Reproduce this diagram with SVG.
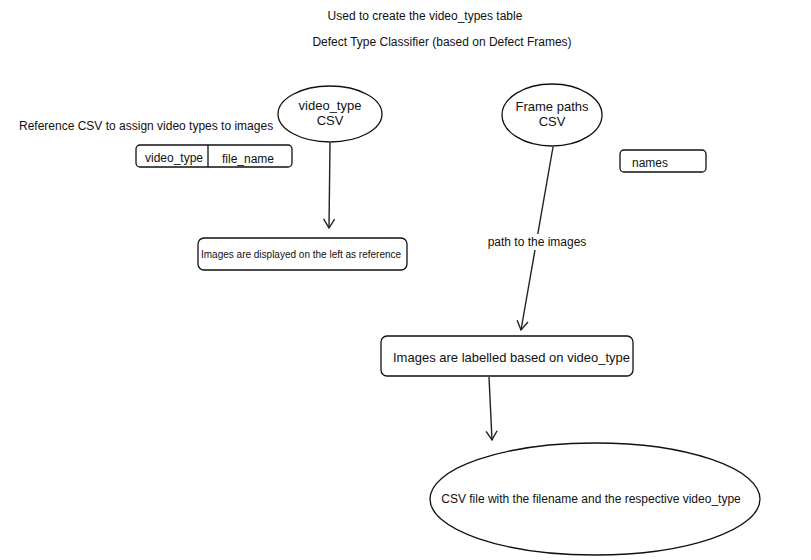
<svg xmlns="http://www.w3.org/2000/svg" width="811" height="560" viewBox="0 0 811 560">
  <style>
    text { font-family: "Liberation Sans", Arial, sans-serif; fill: #111; }
    .t13 { font-size: 13px; }
    .t12 { font-size: 12px; }
    .t10 { font-size: 10px; }
    .shape { fill: #fff; stroke: #111; stroke-width: 1.3; }
    .edge { fill: none; stroke: #222; stroke-width: 1.4; }
  </style>
  <defs>
    <marker id="arrowV" markerWidth="14" markerHeight="14" refX="10" refY="7" orient="auto" markerUnits="userSpaceOnUse">
      <path d="M1,1.5 L10,7 L1,12.5" fill="none" stroke="#222" stroke-width="1.4"/>
    </marker>
  </defs>
  <rect width="811" height="560" fill="#fff"/>

  <!-- headings -->
  <text class="t12" x="425" y="20" text-anchor="middle">Used to create the video_types table</text>
  <text class="t12" x="442" y="46" text-anchor="middle">Defect Type Classifier (based on Defect Frames)</text>
  <text class="t12" x="19" y="130">Reference CSV to assign video types to images</text>

  <!-- connectors -->
  <g id="connectors">
    <line class="edge" x1="330" y1="143" x2="329" y2="228" marker-end="url(#arrowV)"/>
    <line class="edge" x1="553" y1="147" x2="521" y2="330" marker-end="url(#arrowV)"/>
    <rect x="482" y="234" width="110" height="16" fill="#fff"/>
    <text class="t12" x="537" y="246" text-anchor="middle">path to the images</text>
    <line class="edge" x1="489" y1="377" x2="492" y2="440" marker-end="url(#arrowV)"/>
  </g>

  <g id="video-type-csv">
    <ellipse class="shape" cx="330" cy="114" rx="52" ry="28"/>
    <text class="t13" x="330" y="110" text-anchor="middle">video_type</text>
    <text class="t13" x="330" y="125" text-anchor="middle">CSV</text>
  </g>

  <g id="frame-paths-csv">
    <ellipse class="shape" cx="552" cy="115" rx="50" ry="31"/>
    <text class="t13" x="552" y="111" text-anchor="middle">Frame paths</text>
    <text class="t13" x="552" y="126" text-anchor="middle">CSV</text>
  </g>

  <g id="reference-table">
    <rect class="shape" x="136" y="145" width="156" height="22" rx="4"/>
    <line class="edge" x1="208" y1="145" x2="208" y2="167"/>
    <text class="t12" x="145" y="162">video_type</text>
    <text class="t12" x="222" y="163">file_name</text>
  </g>

  <g id="names">
    <rect class="shape" x="620" y="150" width="86" height="22" rx="4"/>
    <text class="t12" x="632" y="167">names</text>
  </g>

  <g id="displayed">
    <rect class="shape" x="198" y="238" width="209" height="32" rx="6"/>
    <text class="t10" x="201" y="258">Images are displayed on the left as reference</text>
  </g>

  <g id="labelled">
    <rect class="shape" x="381" y="336" width="252" height="40" rx="6"/>
    <text class="t13" x="393" y="362">Images are labelled based on video_type</text>
  </g>

  <g id="output-csv">
    <ellipse class="shape" cx="595" cy="499" rx="165" ry="56"/>
    <text class="t12" x="591" y="503" text-anchor="middle">CSV file with the filename and the respective video_type</text>
  </g>
</svg>
